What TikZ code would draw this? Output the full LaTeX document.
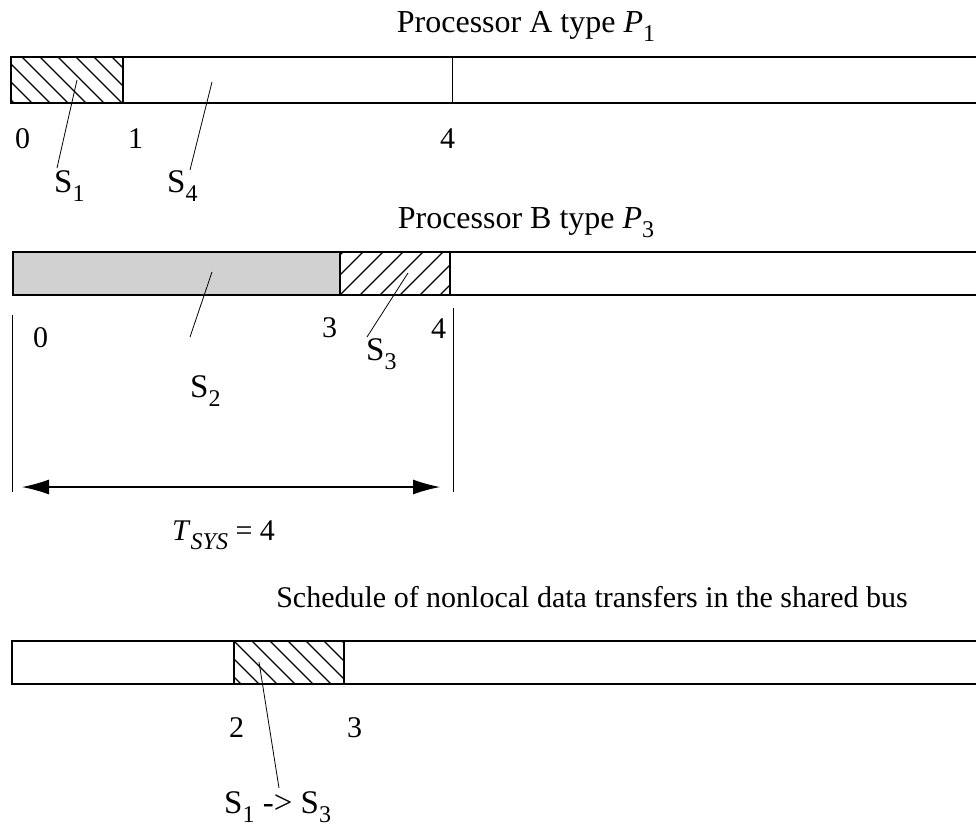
\documentclass[tikz,border=0pt]{standalone}
\usepackage{fontspec}
\setmainfont{Liberation Serif}
\usetikzlibrary{arrows.meta}
\newcommand{\lowsub}[1]{\raisebox{-0.3em}{\fontsize{24}{24}\selectfont #1}}
\begin{document}
\begin{tikzpicture}[x=1pt,y=-1pt,
  txt/.style={font=\fontsize{30}{34}\selectfont, inner sep=0pt},
  ttl/.style={font=\fontsize{32}{36}\selectfont, inner sep=0pt, anchor=base},
  lbl/.style={txt, anchor=base west},
  slbl/.style={font=\fontsize{33}{36}\selectfont, inner sep=0pt, anchor=base west},
  barline/.style={line width=1.3pt},
  hatch/.style={line width=1.1pt},
  leader/.style={line width=0.8pt},
  tick/.style={line width=0.9pt}]
\useasboundingbox (0,0) rectangle (976,833);

% ---------- Processor A ----------
\node[ttl] (titleA) at (526,32) {Processor A type \textit{P}\lowsub{1}};
\begin{scope}
  \clip (11,57) rectangle (123,103);
  \foreach \i in {-50,-32,...,130} \draw[hatch] (\i,57) -- (\i+46,103);
\end{scope}
\draw[barline] (976,57) -- (11,57) -- (11,103) -- (976,103);
\draw[barline] (123,57) -- (123,103);
\draw[tick] (452,57) -- (452,103);
\node[lbl] (a0) at (15,148) {0};
\node[lbl] (a1) at (128,148) {1};
\node[lbl] (a4) at (440,148) {4};
\node[slbl] (s1) at (54,192) {S\lowsub{1}};
\node[slbl] (s4) at (167,192) {S\lowsub{4}};
\coordinate (s1p) at (77,80);
\coordinate (s1e) at (57,168);
\coordinate (s4p) at (212,82);
\coordinate (s4e) at (190,170);
\draw[leader] (s1p) -- (s1e);
\draw[leader] (s4p) -- (s4e);

% ---------- Processor B ----------
\node[ttl] (titleB) at (526,228) {Processor B type \textit{P}\lowsub{3}};
\fill[gray!36] (13,252) rectangle (340,295);
\begin{scope}
  \clip (340,252) rectangle (450,295);
  \foreach \i in {280,300,...,470} \draw[hatch] (\i,295) -- (\i+43,252);
\end{scope}
\draw[barline] (976,252) -- (13,252) -- (13,295) -- (976,295);
\draw[barline] (340,252) -- (340,295);
\draw[barline] (450,252) -- (450,295);
\node[lbl] (b0) at (33,347) {0};
\node[lbl] (b3) at (322,337) {3};
\node[lbl] (b4) at (431,338) {4};
\node[slbl] (s2) at (190,397) {S\lowsub{2}};
\node[slbl] (s3) at (366,360) {S\lowsub{3}};
\coordinate (s2p) at (212,272);
\coordinate (s2e) at (190,337);
\coordinate (s3p) at (408,273);
\coordinate (s3e) at (367,337);
\draw[leader] (s2p) -- (s2e);
\draw[leader] (s3p) -- (s3e);

% ---------- T_SYS ----------
\coordinate (vl1) at (12,315);
\coordinate (vl2) at (12,492);
\coordinate (vr1) at (453,308);
\coordinate (vr2) at (453,492);
\draw[tick] (vl1) -- (vl2);
\draw[tick] (vr1) -- (vr2);
\coordinate (arL) at (22,487);
\coordinate (arR) at (440,487);
\draw[line width=1.1pt, {Latex[length=27pt,width=15pt]}-{Latex[length=27pt,width=15pt]}] (arL) -- (arR);
\node[lbl] (tsys) at (172,540) {\textit{T}\lowsub{\textit{SYS}} = 4};

% ---------- Shared bus ----------
\node[txt, anchor=base] (titleC) at (592,607) {Schedule of nonlocal data transfers in the shared bus};
\begin{scope}
  \clip (234,641) rectangle (344,684);
  \foreach \i in {180,198,...,360} \draw[hatch] (\i,641) -- (\i+43,684);
\end{scope}
\draw[barline] (976,641) -- (12,641) -- (12,684) -- (976,684);
\draw[barline] (234,641) -- (234,684);
\draw[barline] (344,641) -- (344,684);
\node[lbl] (c2) at (229,737) {2};
\node[lbl] (c3) at (347,737) {3};
\node[slbl] (s13) at (224,813) {S\lowsub{1} -> S\lowsub{3}};
\coordinate (s13p) at (259,662);
\coordinate (s13e) at (279,788);
\draw[leader] (s13p) -- (s13e);
\end{tikzpicture}
\end{document}
